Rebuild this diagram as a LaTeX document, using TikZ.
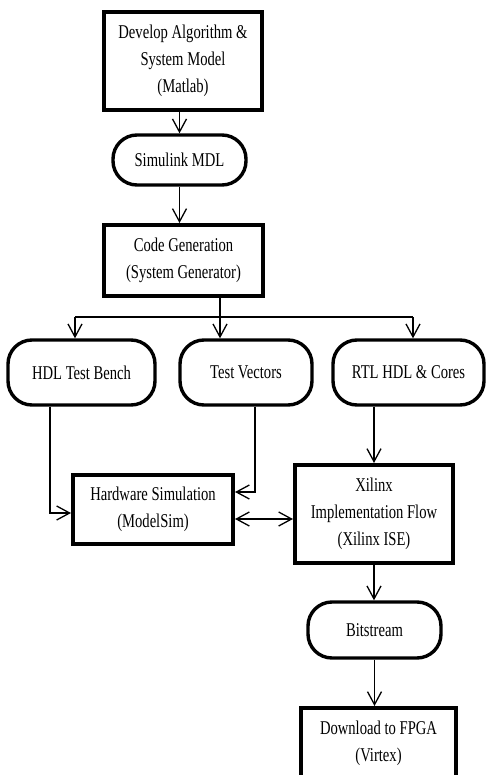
\documentclass[tikz,border=0pt]{standalone}
\usepackage{fontspec}
\setmainfont[FakeStretch=0.75]{Liberation Serif}
\usetikzlibrary{arrows.meta}
\begin{document}
\begin{tikzpicture}[x=1pt,y=-1pt,
  >={Straight Barb[length=13pt,width=14pt]},
  font=\fontsize{19.5}{27}\selectfont,
  proc/.style={draw, line width=4pt, align=center, inner sep=0pt},
  term/.style={draw, line width=3.4pt, rounded corners=24pt, align=center, inner sep=0pt},
  conn/.style={line width=1.3pt, ->},
  wire/.style={line width=1.3pt},
]
\useasboundingbox (0,0) rectangle (485,775);
\node[proc, minimum width=158pt, minimum height=98pt] (dev) at (183,61) {Develop Algorithm \&\\System Model\\(Matlab)};
\node[term, minimum width=133pt, minimum height=50pt] (sim) at (179.5,160) {Simulink MDL};
\node[proc, minimum width=159pt, minimum height=71pt] (code) at (183.5,260.5) {Code Generation\\(System Generator)};
\node[term, minimum width=147pt, minimum height=65pt] (hdl) at (81.5,372.5) {HDL Test Bench};
\node[term, minimum width=132pt, minimum height=65pt] (tv) at (246,372.5) {Test Vectors};
\node[term, minimum width=151pt, minimum height=65pt] (rtl) at (408.5,372.5) {RTL HDL \& Cores};
\node[proc, minimum width=160pt, minimum height=69pt] (hw) at (153,509.5) {Hardware Simulation\\(ModelSim)};
\node[proc, minimum width=158pt, minimum height=98pt] (xil) at (374,514) {Xilinx\\Implementation Flow\\(Xilinx ISE)};
\node[term, minimum width=133pt, minimum height=56pt] (bit) at (374.5,630) {Bitstream};
\node[proc, minimum width=155pt, minimum height=70pt] (dl) at (378.5,743) {Download to FPGA\\(Virtex)};

\coordinate (bus) at (220,317);
\coordinate (busL) at (75,317);
\coordinate (busR) at (413,317);

\draw[conn] (dev.south -| sim.north) -- (sim.north);
\draw[conn] (sim.south) -- (sim.south |- code.north);
\draw[wire] (code.south -| bus) -- (bus);
\draw[wire] (busL) -- (busR);
\draw[conn] (busL) -- (busL |- hdl.north);
\draw[conn] (bus) -- (bus |- tv.north);
\draw[conn] (busR) -- (busR |- rtl.north);
\draw[conn] ([xshift=-31.5pt]hdl.south) |- ([yshift=-3.5pt]hw.west);
\draw[conn] ([xshift=9pt]tv.south) |- ([yshift=17.5pt]hw.east);
\draw[wire,<->] ([yshift=-9.5pt]hw.east) -- ([yshift=-9.5pt]hw.east -| xil.west);
\draw[conn] (rtl.south -| xil.north) -- (xil.north);
\draw[conn] (xil.south) -- (xil.south |- bit.north);
\draw[conn] (bit.south) -- (bit.south |- dl.north);
\end{tikzpicture}
\end{document}
